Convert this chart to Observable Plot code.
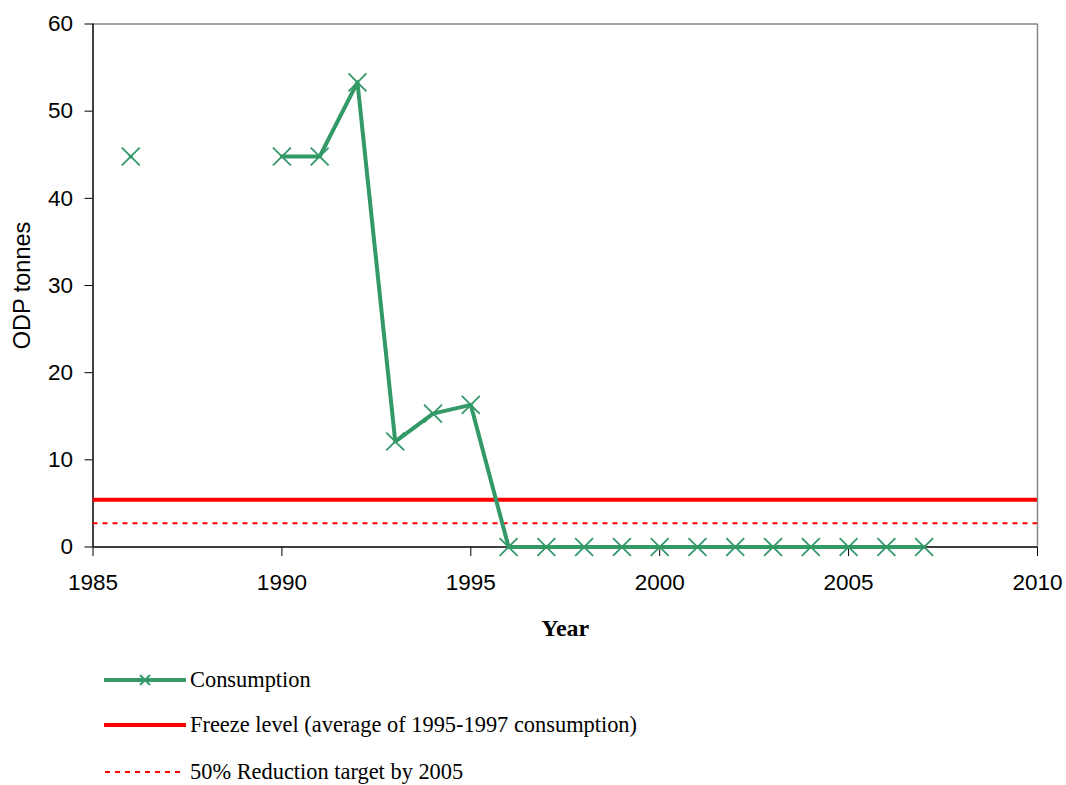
<!DOCTYPE html>
<html>
<head>
<meta charset="utf-8">
<script src="https://cdn.jsdelivr.net/npm/d3@7"></script>
<script src="https://cdn.jsdelivr.net/npm/@observablehq/plot@0.6"></script>
<style>
  html, body { margin: 0; padding: 0; background: #fff; }
  #wrap { position: relative; width: 1066px; height: 785px; }
  .row { position: absolute; left: 104px; height: 26px; display: flex; align-items: center; white-space: nowrap;
         font-family: "Liberation Serif", "Times New Roman", serif; font-size: 22.4px; color: #000; }
  .row svg { display: block; margin-right: 4px; }
</style>
</head>
<body>
<div id="wrap"></div>
<script>
const years = [1986,1987,1988,1989,1990,1991,1992,1993,1994,1995,1996,1997,1998,1999,2000,2001,2002,2003,2004,2005,2006,2007];
const consumption = [44.8,null,null,null,44.8,44.8,53.3,12.1,15.3,16.3,0,0,0,0,0,0,0,0,0,0,0,0];
const freezeLevel = [5.43];
const reductionTarget = [2.72];
const xDomain = [1985, 2010];
const yDomain = [0, 60];
const xTicks = [1985,1990,1995,2000,2005,2010];
const yTicks = [0,10,20,30,40,50,60];
const legendLabels = ["Consumption", "Freeze level (average of 1995-1997 consumption)", "50% Reduction target by 2005"];

const green = "#339966";
const red = "#ff0000";
const data = years.map((yr, i) => ({year: yr, value: consumption[i]}));

const chart = Plot.plot({
  width: 1066,
  height: 650,
  marginLeft: 92.5,
  marginRight: 29,
  marginTop: 23.5,
  marginBottom: 103.5,
  style: {fontFamily: "'Liberation Sans', Arial, sans-serif", fontSize: "22.5px", color: "#000", background: "#fff"},
  x: {domain: xDomain},
  y: {domain: yDomain},
  marks: [
    Plot.axisX({ticks: xTicks, tickSize: 9.5, tickPadding: 18, tickFormat: d => String(d), label: null, fontSize: 22.5, stroke: "#000"}),
    Plot.axisY({ticks: yTicks, tickSize: 8, tickPadding: 12, label: null, fontSize: 22.5, stroke: "#000"}),
    Plot.ruleY([yDomain[1]], {stroke: "#888", strokeWidth: 1.5}),
    Plot.ruleX([xDomain[1]], {stroke: "#888", strokeWidth: 1.5}),
    Plot.ruleX([xDomain[0]], {stroke: "#000", strokeWidth: 1.5}),
    Plot.ruleY([yDomain[0]], {stroke: "#000", strokeWidth: 1.5}),
    Plot.ruleY(reductionTarget, {stroke: red, strokeWidth: 2, strokeDasharray: "5,5"}),
    Plot.ruleY(freezeLevel, {stroke: red, strokeWidth: 4}),
    Plot.line(data, {x: "year", y: "value", stroke: green, strokeWidth: 4}),
    Plot.dot(data, {x: "year", y: "value", symbol: "times", r: 8.2, stroke: green, strokeWidth: 1.8}),
    Plot.text(["ODP tonnes"], {frameAnchor: "left", rotate: -90, dx: -70.5, fontSize: 23.5, lineAnchor: "middle", textAnchor: "middle", fill: "#000"}),
    Plot.text(["Year"], {frameAnchor: "bottom", dy: 81.5, fontSize: 24, fontWeight: "bold", fontFamily: "'Liberation Serif', 'Times New Roman', serif", lineAnchor: "middle", fill: "#000"})
  ]
});
const wrap = document.getElementById("wrap");
chart.style.position = "absolute";
chart.style.left = "0px";
chart.style.top = "0px";
wrap.appendChild(chart);

const centers = [680, 725, 772];
legendLabels.forEach((label, i) => {
  const row = document.createElement("div");
  row.className = "row";
  row.style.top = (centers[i] - 13) + "px";
  const svg = d3.create("svg").attr("width", 82).attr("height", 26);
  if (i === 0) {
    svg.append("line").attr("x1", 1).attr("x2", 81).attr("y1", 13).attr("y2", 13).attr("stroke", green).attr("stroke-width", 4).attr("stroke-linecap", "round");
    svg.append("path").attr("d", "M36,8L46,18M36,18L46,8").attr("stroke", green).attr("stroke-width", 1.8);
  } else if (i === 1) {
    svg.append("line").attr("x1", 1).attr("x2", 81).attr("y1", 13).attr("y2", 13).attr("stroke", red).attr("stroke-width", 4).attr("stroke-linecap", "round");
  } else {
    svg.append("line").attr("x1", 1).attr("x2", 81).attr("y1", 13).attr("y2", 13).attr("stroke", red).attr("stroke-width", 2).attr("stroke-dasharray", "5,5");
  }
  row.appendChild(svg.node());
  const span = document.createElement("span");
  span.textContent = label;
  row.appendChild(span);
  wrap.appendChild(row);
});
</script>
</body>
</html>
